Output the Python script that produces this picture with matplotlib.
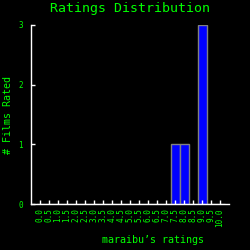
import numpy as np
import matplotlib.pyplot as plt

# Ratings distribution data
rating_labels = ["0.0", "0.5", "1.0", "1.5", "2.0", "2.5", "3.0", "3.5", "4.0", "4.5",
                 "5.0", "5.5", "6.0", "6.5", "7.0", "7.5", "8.0", "8.5", "9.0", "9.5", "10.0"]
film_counts = [0, 0, 0, 0, 0, 0, 0, 0, 0, 0,
               0, 0, 0, 0, 0, 1, 1, 0, 3, 0, 0]
y_ticks = [0, 1, 2, 3]

GREEN = "#00ff00"
MONO = "DejaVu Sans Mono"

fig = plt.figure(figsize=(2.5, 2.5), dpi=100, facecolor="black")
ax = fig.add_axes([0.124, 0.184, 0.792, 0.717], facecolor="black")

x = np.arange(len(rating_labels))
ax.bar(x, film_counts, width=1.0, color="#0000ff", edgecolor="#808080", linewidth=1.0)

ax.set_xlim(-1, len(rating_labels))
ax.set_ylim(0, 3)
ax.set_xticks(x)
ax.set_xticklabels(rating_labels, rotation=90, fontsize=5.5, family=MONO, color=GREEN)
ax.set_yticks(y_ticks)
ax.set_yticklabels([str(v) for v in y_ticks], fontsize=5.5, family=MONO, color=GREEN)
ax.tick_params(axis="both", direction="in", length=3, width=1, colors="white",
               labelcolor=GREEN, pad=3)
ax.tick_params(axis="y", pad=6)

for side in ["top", "right"]:
    ax.spines[side].set_visible(False)
for side in ["left", "bottom"]:
    ax.spines[side].set_color("white")
    ax.spines[side].set_linewidth(1.0)

fig.text(0.52, 0.965, "Ratings Distribution", ha="center", va="center",
         fontsize=9.5, family=MONO, color=GREEN)
fig.text(0.61, 0.04, "maraibu\u2019s ratings", ha="center", va="center",
         fontsize=7.2, family=MONO, color=GREEN)
fig.text(0.034, 0.54, "# Films Rated", ha="center", va="center", rotation=90,
         fontsize=7.2, family=MONO, color=GREEN)

fig.savefig("out.png", dpi=100, facecolor="black")
